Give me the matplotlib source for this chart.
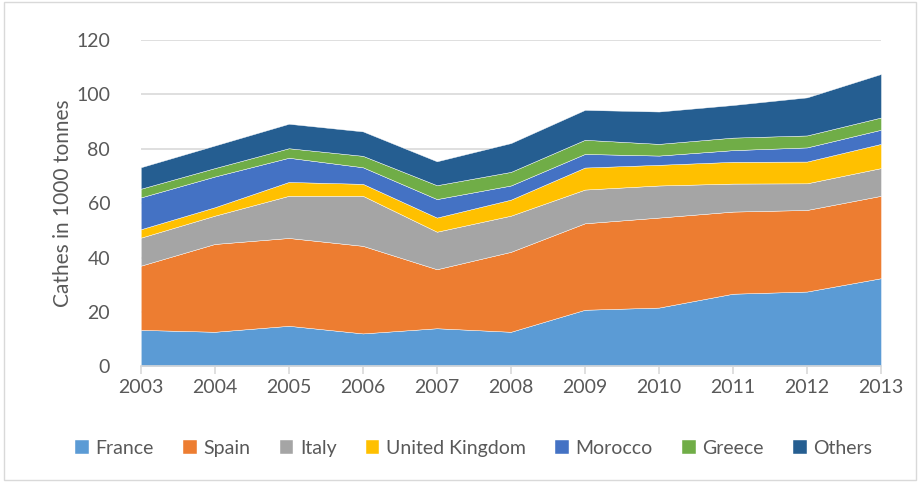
import numpy as np
import matplotlib.pyplot as plt
from matplotlib.patches import Rectangle

plt.rcParams['font.family'] = ['Lato', 'DejaVu Sans']

# dati (migliaia di tonnellate)
years = [2003, 2004, 2005, 2006, 2007, 2008, 2009, 2010, 2011, 2012, 2013]
france = [13.4, 12.7, 14.9, 12.1, 14.0, 12.7, 20.8, 21.6, 26.7, 27.5, 32.4]
spain = [23.6, 32.3, 32.3, 32.2, 21.7, 29.4, 31.8, 33.1, 30.2, 30.0, 30.3]
italy = [10.3, 10.4, 15.5, 18.4, 13.8, 13.3, 12.4, 11.8, 10.3, 9.8, 10.2]
uk = [3.1, 3.1, 5.1, 4.4, 5.2, 5.9, 8.1, 7.6, 8.0, 8.0, 8.9]
morocco = [11.7, 11.3, 8.9, 6.1, 6.8, 5.2, 5.0, 3.4, 4.3, 5.2, 5.2]
greece = [3.2, 3.1, 3.5, 4.2, 5.1, 5.0, 5.2, 4.3, 4.6, 4.4, 4.5]
others = [7.9, 8.3, 9.0, 9.0, 8.8, 10.6, 11.0, 11.9, 12.0, 14.0, 16.0]

labels = ['France', 'Spain', 'Italy', 'United Kingdom', 'Morocco', 'Greece', 'Others']
colors = ['#5B9BD5', '#ED7D31', '#A5A5A5', '#FFC000', '#4472C4', '#70AD47', '#255E91']
txt = '#595959'

fig = plt.figure(figsize=(9.2, 4.82), dpi=100)
ax = fig.add_axes([0.153, 0.240, 0.8046, 0.677])

ax.stackplot(years, france, spain, italy, uk, morocco, greece, others,
             labels=labels, colors=colors, edgecolor='white', linewidth=0.3, zorder=2)

ax.set_xlim(2003, 2013)
ax.set_ylim(0, 120)
ax.set_xticks(years)
ax.set_yticks(np.arange(0, 121, 20))
ax.grid(axis='y', color='#D9D9D9', linewidth=1.2, zorder=0)
ax.set_axisbelow(True)

for s in ['top', 'right', 'left']:
    ax.spines[s].set_visible(False)
ax.spines['bottom'].set_color('#D9D9D9')
ax.spines['bottom'].set_linewidth(1.2)
ax.spines['bottom'].set_zorder(3)

ax.tick_params(axis='y', length=0, pad=22, labelsize=14, labelcolor=txt)
ax.tick_params(axis='x', length=6, width=1.2, color='#D9D9D9', pad=3,
               labelsize=14, labelcolor=txt)
ax.set_ylabel('Cathes in 1000 tonnes', fontsize=15, color=txt, labelpad=2)

ax.legend(loc='center', bbox_to_anchor=(0.515, 0.07), bbox_transform=fig.transFigure,
          ncol=7, frameon=False, fontsize=14, labelcolor=txt,
          handlelength=0.7, handleheight=0.7, handletextpad=0.35, columnspacing=1.5)

fig.patches.append(Rectangle((0.004, 0.004), 0.992, 0.992, transform=fig.transFigure,
                             fill=False, edgecolor='#D9D9D9', linewidth=1.0))

fig.savefig('out.png', dpi=100)
